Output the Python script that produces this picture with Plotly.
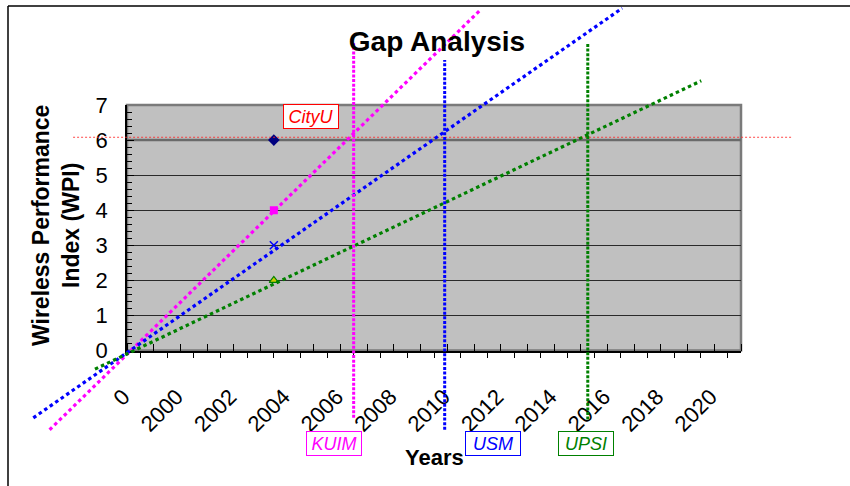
import plotly.graph_objects as go

# ---------------- data ----------------
chart_title = "Gap Analysis"
x_title = "Years"
y_title = "Wireless Performance<br>Index (WPI)"

categories = ["0", "1999", "2000", "2001", "2002", "2003", "2004", "2005", "2006",
              "2007", "2008", "2009", "2010", "2011", "2012", "2013", "2014", "2015",
              "2016", "2017", "2018", "2019", "2020"]
tick_labels = ["0", "", "2000", "", "2002", "", "2004", "", "2006", "", "2008", "",
               "2010", "", "2012", "", "2014", "", "2016", "", "2018", "", "2020"]

institutions = ["CityU", "KUIM", "USM", "UPSI"]
wpi_category = "2003"
wpi_values = [6, 4, 3, 2]

# trend lines (position along category axis, WPI)
kuim_trend_x = [-3.40, 12.75]
kuim_trend_y = [-2.26, 9.72]
usm_trend_x = [-4.01, 18.05]
usm_trend_y = [-1.92, 9.76]
upsi_trend_x = [-1.70, 21.01]
upsi_trend_y = [-0.53, 7.69]

# CityU target level
target_x = [-2.52, 24.41]
target_wpi = [6.08, 6.08]

# gap markers (vertical lines where each trend reaches the target)
kuim_gap_x = [7.99, 7.99]
kuim_gap_y = [-1.92, 8.76]
usm_gap_x = [11.40, 11.40]
usm_gap_y = [-2.26, 8.28]
upsi_gap_x = [16.76, 16.76]
upsi_gap_y = [-1.97, 8.74]

# ---------------- layout geometry ----------------
W, H = 850, 486
PL, PR, PT, PB = 127, 741, 105, 350.5
X_RANGE = [-0.5, len(categories) - 0.5]
Y_RANGE = [0, 7]


def px(x):
    return x / W


def py(y):
    return 1 - y / H


ux = (X_RANGE[1] - X_RANGE[0]) / (PR - PL)
uy = (Y_RANGE[1] - Y_RANGE[0]) / (PB - PT)
x2_range = [X_RANGE[0] - PL * ux, X_RANGE[1] + (W - PR) * ux]
y2_range = [Y_RANGE[0] - (H - PB) * uy, Y_RANGE[1] + PT * uy]

FONT = "Liberation Sans, Arial, sans-serif"
MAGENTA, BLUE, GREEN, RED, NAVY = "#FF00FF", "#0000FF", "#008000", "#FF0000", "#000080"

fig = go.Figure()

pos = categories.index(wpi_category)
marker_styles = [
    dict(symbol="diamond", color=NAVY, size=9),
    dict(symbol="square", color=MAGENTA, size=8),
    dict(symbol="x-thin", color=BLUE, size=8, line=dict(color=BLUE, width=1.5)),
    dict(symbol="triangle-up", color="#CCCC00", size=8, line=dict(color=GREEN, width=1.2)),
]
for name, val, ms in zip(institutions, wpi_values, marker_styles):
    fig.add_trace(go.Scatter(x=[pos], y=[val], mode="markers", name=name,
                             marker=ms, showlegend=False, xaxis="x", yaxis="y",
                             hoverinfo="skip"))

diag = "3.5px,3.2px"
vert = "3px,1.6px"
lines = [
    (target_x, target_wpi, "rgba(255,40,40,0.85)", 1, "2px,2px"),
    (kuim_trend_x, kuim_trend_y, MAGENTA, 3.2, diag),
    (usm_trend_x, usm_trend_y, BLUE, 3.2, diag),
    (upsi_trend_x, upsi_trend_y, GREEN, 3.2, diag),
    (kuim_gap_x, kuim_gap_y, MAGENTA, 3, vert),
    (usm_gap_x, usm_gap_y, BLUE, 3, vert),
    (upsi_gap_x, upsi_gap_y, GREEN, 3, vert),
]
for xs, ys, col, w, dash in lines:
    fig.add_trace(go.Scatter(x=xs, y=ys, mode="lines", xaxis="x2", yaxis="y2",
                             line=dict(color=col, width=w, dash=dash),
                             showlegend=False, hoverinfo="skip"))

fig.update_layout(
    width=W, height=H,
    margin=dict(l=0, r=0, t=0, b=0, autoexpand=False),
    paper_bgcolor="white", plot_bgcolor="rgba(0,0,0,0)",
    font=dict(family=FONT, color="black"),
    showlegend=False,
    title=dict(text="<b>" + chart_title + "</b>", x=px(437), y=py(41),
               xanchor="center", yanchor="middle",
               font=dict(family=FONT, size=28, color="black")),
    xaxis=dict(domain=[px(PL), px(PR)], range=X_RANGE, anchor="y",
               tickmode="array", tickvals=list(range(len(categories))),
               ticktext=tick_labels, tickangle=-45,
               tickfont=dict(family=FONT, size=22, color="black"),
               ticklabelshift=-17, ticklabelstandoff=17,
               ticks="outside", ticklen=6, tickcolor="black", tickwidth=1,
               showline=True, linecolor="black", linewidth=1.5,
               showgrid=False, zeroline=False, automargin=False,
               minor=dict(tickmode="array",
                          tickvals=[i + 0.5 for i in range(-1, len(categories))],
                          ticks="inside", ticklen=7, tickcolor="black", tickwidth=1,
                          showgrid=False)),
    yaxis=dict(domain=[py(PB), py(PT)], range=Y_RANGE, anchor="x",
               tickmode="linear", tick0=0, dtick=1,
               tickfont=dict(family=FONT, size=22, color="black"),
               ticks="inside", ticklen=7, tickcolor="black", tickwidth=1,
               ticklabelstandoff=13,
               showline=True, linecolor="black", linewidth=1.5,
               showgrid=True, gridcolor="#2a2a2a", gridwidth=1,
               zeroline=False, automargin=False,
               minor=dict(dtick=0.2, ticks="inside", ticklen=5, tickcolor="black",
                          tickwidth=1, showgrid=False)),
    xaxis2=dict(domain=[0, 1], range=x2_range, anchor="y2", visible=False,
                fixedrange=True),
    yaxis2=dict(domain=[0, 1], range=y2_range, anchor="x2", visible=False,
                fixedrange=True),
)

# plot area background + gray border, thick gray line at 6
fig.add_shape(type="rect", xref="x domain", yref="y domain", x0=0, x1=1, y0=0, y1=1,
              fillcolor="#C0C0C0", line=dict(color="#7a7a7a", width=2.5), layer="below")
fig.add_shape(type="line", xref="x", yref="y", x0=X_RANGE[0], x1=X_RANGE[1], y0=6, y1=6,
              line=dict(color="#6a6a6a", width=2.5), layer="between")

# outer frame
fig.add_shape(type="line", xref="paper", yref="paper", x0=px(8), x1=1.01, y0=py(6), y1=py(6),
              line=dict(color="black", width=1.5))
fig.add_shape(type="line", xref="paper", yref="paper", x0=px(8), x1=px(8), y0=py(6), y1=-0.01,
              line=dict(color="black", width=1.5))

# axis titles
fig.add_annotation(text="<b>" + y_title + "</b>", xref="paper", yref="paper",
                   x=px(56), y=py(226), textangle=-90, showarrow=False,
                   xanchor="center", yanchor="middle",
                   font=dict(family=FONT, size=23, color="black"))
fig.add_annotation(text="<b>" + x_title + "</b>", xref="paper", yref="paper",
                   x=px(434), y=py(457), showarrow=False,
                   xanchor="center", yanchor="middle",
                   font=dict(family=FONT, size=22, color="black"))

# institution label boxes
label_boxes = [
    ("CityU", RED, 310.8, 116),
    ("KUIM", MAGENTA, 334.3, 443.8),
    ("USM", BLUE, 493.3, 443.8),
    ("UPSI", GREEN, 585.8, 443.8),
]
for txt, col, bx, by in label_boxes:
    fig.add_annotation(text="<i>" + txt + "</i>", xref="paper", yref="paper",
                       x=px(bx), y=py(by), showarrow=False,
                       xanchor="center", yanchor="middle",
                       width=52, height=21, borderpad=1,
                       bordercolor=col, borderwidth=1, bgcolor="white",
                       font=dict(family=FONT, size=18, color=col))

fig.write_html("out.html", config={"displayModeBar": False},
               post_script="document.body.style.margin='0';")
